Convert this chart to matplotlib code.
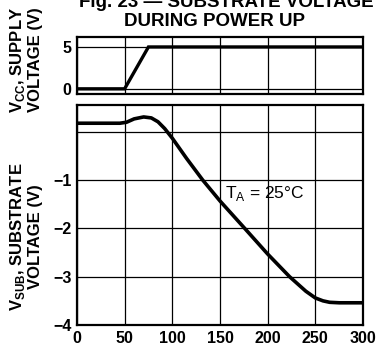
import numpy as np
import matplotlib
matplotlib.use("Agg")
from matplotlib import pyplot as plt

plt.rcParams['font.family'] = ['Liberation Sans', 'DejaVu Sans']

# supply voltage (top panel)
vcc_t = [0, 50, 75, 300]
vcc_v = [0, 0, 5, 5]

# substrate voltage (bottom panel)
sub_t = [0, 45, 52, 60, 70, 78, 85, 92, 100, 115, 132, 150, 176, 200,
         223, 240, 250, 258, 265, 275, 300]
sub_v = [0.18, 0.18, 0.20, 0.27, 0.31, 0.29, 0.21, 0.07, -0.13, -0.55, -1.0, -1.43,
         -2.0, -2.53, -3.0, -3.3, -3.44, -3.5, -3.53, -3.54, -3.54]

x_ticks = [0, 50, 100, 150, 200, 250, 300]
sub_ticks = [-1, -2, -3, -4]

fig = plt.figure(figsize=(3.77, 3.45), dpi=100)
ax1 = fig.add_axes([0.204, 0.728, 0.759, 0.165])
ax2 = fig.add_axes([0.204, 0.058, 0.759, 0.638])

for ax in (ax1, ax2):
    ax.set_xlim(0, 300)
    ax.set_xticks(x_ticks)
    ax.grid(True, color='black', linewidth=0.9)
    ax.tick_params(length=0, labelsize=11.5, pad=4)
    for s in ax.spines.values():
        s.set_linewidth(1.6)

ax1.plot(vcc_t, vcc_v, color='black', lw=2.4, solid_joinstyle='miter')
ax1.set_ylim(-0.6, 6.2)
ax1.set_yticks([0, 5])
ax1.set_yticklabels(['0', '5'], fontweight='bold')
ax1.set_xticklabels([])
ax1.set_ylabel('V$_{\\mathregular{CC}}$, SUPPLY\nVOLTAGE (V)', fontsize=12,
               fontweight='bold', linespacing=1.12)
ax1.yaxis.set_label_coords(-0.118, 0.6)

ax2.plot(sub_t, sub_v, color='black', lw=2.6)
ax2.set_ylim(-4.0, 0.56)
ax2.set_yticks([0] + sub_ticks)
ax2.set_yticklabels([''] + ['\u2212%d' % (-v) for v in sub_ticks], fontweight='bold')
ax2.set_xticklabels([str(v) for v in x_ticks], fontweight='bold')
ax2.set_ylabel('V$_{\\mathregular{SUB}}$, SUBSTRATE\nVOLTAGE (V)', fontsize=12,
               fontweight='bold', linespacing=1.12)
ax2.yaxis.set_label_coords(-0.118, 0.4)
ax2.text(155, -1.27, 'T$_{\\mathregular{A}}$ = 25\u00b0C', fontsize=12.5, va='center', ha='left')

fig.text(0.6, 0.994, 'Fig. 23 \u2014 SUBSTRATE VOLTAGE', ha='center', va='center',
         fontsize=13.5, fontweight='bold')
fig.text(0.568, 0.937, 'DURING POWER UP', ha='center', va='center',
         fontsize=13.5, fontweight='bold')

fig.savefig('out.png', dpi=100)
